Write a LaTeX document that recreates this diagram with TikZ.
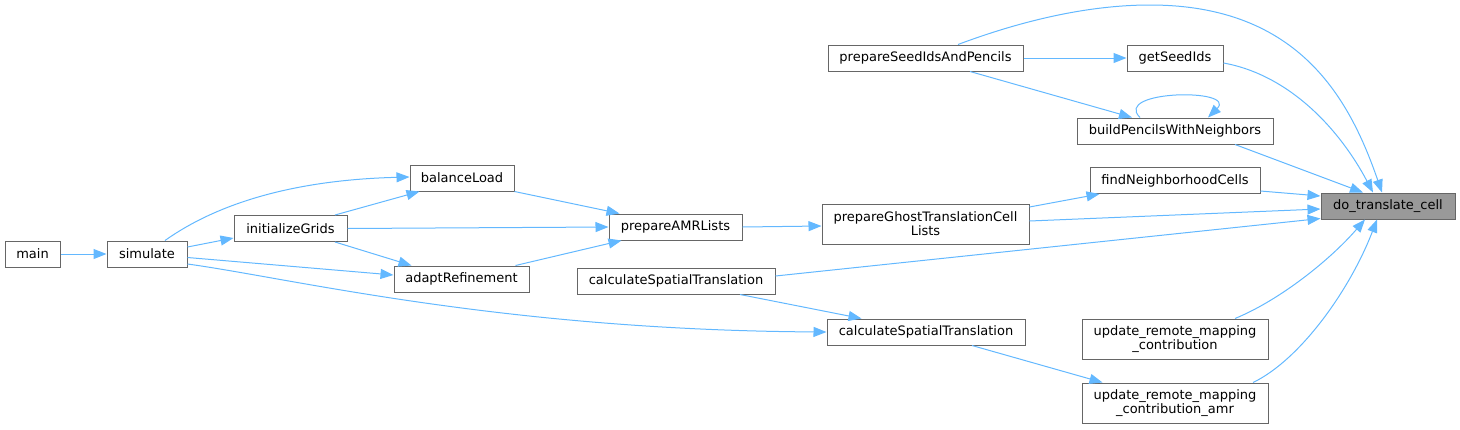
\documentclass[tikz,border=0pt]{standalone}
\usepackage{fontspec}
\setmainfont{DejaVu Sans}
\usetikzlibrary{arrows.meta}
\definecolor{edgec}{HTML}{63B8FF}
\definecolor{boxc}{HTML}{666666}
\definecolor{rootc}{HTML}{999999}
\begin{document}
\begin{tikzpicture}[x=1pt,y=-1pt,
  box/.style={draw=boxc, line width=1pt, fill=white, inner sep=0pt, minimum height=26pt, align=center,
    font=\fontsize{13}{14}\selectfont},
  tall/.style={minimum height=40pt},
  root/.style={fill=rootc},
  edge/.style={draw=edgec, line width=1pt, -{Triangle[length=13pt,width=10pt]}}]
\useasboundingbox (0,0) rectangle (1460,429);

\node[box, minimum width=55pt] (main) at (32.5,254) {main};
\node[box, minimum width=80pt] (simulate) at (147,254) {simulate};
\node[box, minimum width=113pt] (initG) at (290.5,228.5) {initializeGrids};
\node[box, minimum width=104pt] (balance) at (462,178) {balanceLoad};
\node[box, minimum width=135pt] (adapt) at (461.5,279) {adaptRefinement};
\node[box, minimum width=133pt] (amr) at (675.5,227) {prepareAMRLists};
\node[box, tall, minimum width=207pt] (ghost) at (925.5,224) {prepareGhostTranslationCell\\Lists};
\node[box, minimum width=198pt] (cstA) at (676,281) {calculateSpatialTranslation};
\node[box, minimum width=198pt] (cstB) at (926,332) {calculateSpatialTranslation};
\node[box, minimum width=195pt] (seed) at (925.5,58) {prepareSeedIdsAndPencils};
\node[box, minimum width=96pt] (getseed) at (1175,58) {getSeedIds};
\node[box, minimum width=196pt] (build) at (1175,131) {buildPencilsWithNeighbors};
\node[box, minimum width=170pt] (findn) at (1175,180.5) {findNeighborhoodCells};
\node[box, root, minimum width=134pt] (dt) at (1388,206) {do\_translate\_cell};
\node[box, tall, minimum width=186pt] (urmc) at (1175,339) {update\_remote\_mapping\\\_contribution};
\node[box, tall, minimum width=186pt] (urmca) at (1175,403) {update\_remote\_mapping\\\_contribution\_amr};

% edges
\draw[edge] (main.east) -- (simulate.west);
\draw[edge] ([yshift=7pt]simulate.east) -- ([yshift=-9.5pt]initG.west);
\draw[edge] ([xshift=18pt]simulate.north) .. controls (215,205) and (290,180) .. ([yshift=1pt]balance.west);
\draw[edge] ([yshift=-3.5pt]simulate.east) -- ([yshift=4pt]adapt.west);
\draw[edge] ([yshift=-10pt]simulate.east) .. controls (290,278) and (500,330) .. (cstB.west);
\draw[edge] ([xshift=44.5pt]initG.north) -- ([xshift=10pt]balance.south west);
\draw[edge] (initG.east) -- (amr.west);
\draw[edge] ([xshift=44.5pt]initG.south) -- ([xshift=18pt]adapt.north west);
\draw[edge] (balance.south east) -- ([xshift=11pt]amr.north west);
\draw[edge] ([xshift=-14pt]adapt.north east) -- ([xshift=13pt]amr.south west);
\draw[edge] (amr.east) -- ([yshift=-2pt]ghost.west);
\draw[edge] ([yshift=17pt]ghost.east) -- ([xshift=10pt]findn.south west);
\draw[edge] ([yshift=3pt]ghost.east) -- ([yshift=-3pt]dt.west);
\draw[edge] ([yshift=5pt]cstA.east) -- ([yshift=1pt]dt.south west);
\draw[edge] ([xshift=64pt]cstA.south) -- ([xshift=35pt]cstB.north west);
\draw[edge] ([xshift=46pt]cstB.south) -- ([xshift=21pt]urmca.north west);
\draw[edge] ([yshift=-10.5pt]findn.east) -- ([yshift=10pt]dt.west);
\draw[edge] ([xshift=60pt]build.south) -- ([xshift=-25pt]dt.north);
\draw[edge] ([xshift=-35pt]build.north) .. controls (1112,90) and (1238,88) .. ([xshift=33pt]build.north);
\draw[edge] (seed.east) -- (getseed.west);
\draw[edge] ([xshift=44.5pt]seed.south) -- ([xshift=-43pt]build.north);
\draw[edge] ([xshift=32.5pt]seed.north) .. controls (1010,25) and (1080,5) .. (1150,5)
   .. controls (1300,5) and (1350,100) .. ([xshift=-6pt]dt.north);
\draw[edge] ([yshift=-5pt]getseed.east) .. controls (1290,75) and (1340,130) .. ([xshift=-15pt]dt.north);
\draw[edge] ([xshift=60pt]urmc.north) .. controls (1280,300) and (1330,260) .. ([xshift=-23pt]dt.south);
\draw[edge] ([xshift=78pt]urmca.north) .. controls (1300,360) and (1350,290) .. ([xshift=-11pt]dt.south);
\end{tikzpicture}
\end{document}
